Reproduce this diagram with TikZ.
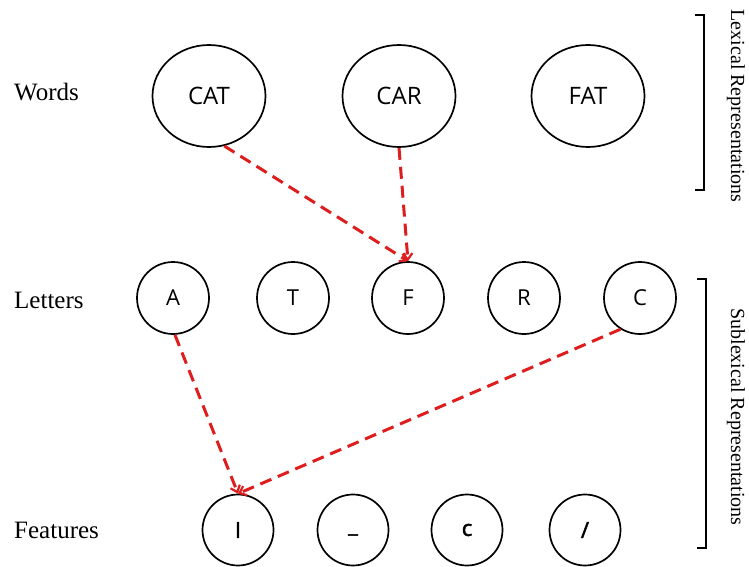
\documentclass[tikz,border=0pt]{standalone}
\usepackage{fontspec}
\setmainfont{Liberation Serif}
\newfontfamily\nodefont{Open Sans}
\newfontfamily\featfont[FakeBold=2]{Open Sans}
\usetikzlibrary{arrows.meta,shapes.geometric}
\definecolor{linkred}{RGB}{222,30,30}
\tikzset{
  wordnode/.style={draw, line width=1.7pt, ellipse, minimum width=113pt, minimum height=102pt, inner sep=0pt, font=\nodefont\fontsize{24}{28}\selectfont},
  letternode/.style={draw, line width=1.7pt, circle, minimum size=72pt, inner sep=0pt, font=\nodefont\fontsize{22}{26}\selectfont},
  featnode/.style={draw, line width=1.7pt, circle, minimum size=71pt, inner sep=0pt, font=\featfont\fontsize{22}{26}\selectfont},
  rowlabel/.style={anchor=west, inner sep=0pt, font=\fontsize{25}{28}\selectfont},
  sidelabel/.style={rotate=-90, inner sep=0pt, font=\fontsize{20}{24}\selectfont},
  link/.style={draw=linkred, line width=3pt, dash pattern=on 12pt off 7pt, -{Straight Barb[length=6pt,width=10pt,line width=2.2pt]}},
  bracket/.style={draw, line width=1.1pt}
}
\begin{document}
\begin{tikzpicture}[x=1pt, y=-1pt]
\useasboundingbox (0,0) rectangle (749,567);
% row labels
\node[rowlabel] (lw) at (14,92) {Words};
\node[rowlabel] (ll) at (14,300) {Letters};
\node[rowlabel] (lf) at (14,530) {Features};
% words
\node[wordnode] (cat) at (209,96) {CAT};
\node[wordnode] (car) at (399,96) {CAR};
\node[wordnode] (fat) at (588,96) {FAT};
% letters
\node[letternode] (a) at (173,298) {A};
\node[letternode] (t) at (293,298) {T};
\node[letternode] (f) at (408,298) {F};
\node[letternode] (r) at (524,298) {R};
\node[letternode] (c) at (640,298) {C};
% features
\node[featnode] (f1) at (238,530) {I};
\node[featnode] (f2) at (353,530) {\raisebox{-8pt}{\_}};
\node[featnode] (f3) at (467,530) {c};
\node[featnode] (f4) at (585,530) {/};
% links
\draw[link] (cat.-73) -- (f.north);
\draw[link] (car.south) -- (f.north);
\draw[link] (a.-87) -- (f1.north);
\draw[link] (c.-122) -- (f1.north);
% brackets
\coordinate (b1t) at (704,15);
\coordinate (b1b) at (704,190);
\draw[bracket] ([xshift=-9pt]b1t) -- (b1t) -- (b1b) -- ([xshift=-9pt]b1b);
\coordinate (b2t) at (706,279);
\coordinate (b2b) at (706,548);
\draw[bracket] ([xshift=-9pt]b2t) -- (b2t) -- (b2b) -- ([xshift=-9pt]b2b);
\node[sidelabel] (lex) at (736,106) {Lexical Representations};
\node[sidelabel] (sub) at (736,417) {Sublexical Representations};
\end{tikzpicture}
\end{document}
